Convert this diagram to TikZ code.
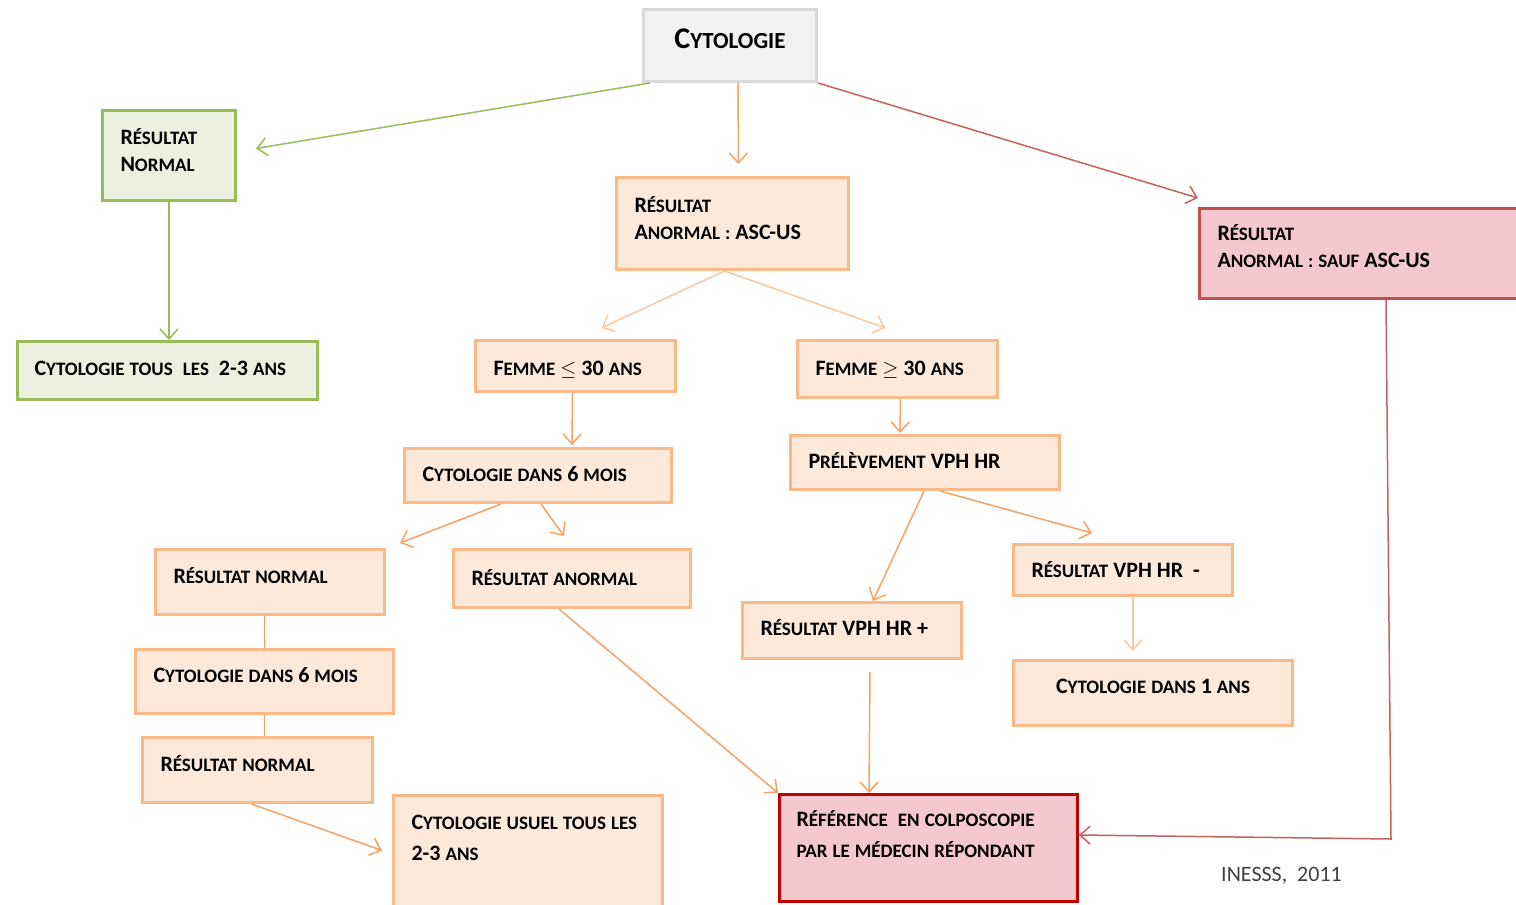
\documentclass[tikz,border=0pt]{standalone}
\usepackage{fontspec}
\setmainfont{Carlito}
\usetikzlibrary{arrows.meta}

\definecolor{peachfill}{HTML}{FDE9D9}
\definecolor{peachline}{HTML}{F9B988}
\definecolor{orangeline}{HTML}{F5A263}
\definecolor{orangelight}{HTML}{FAC8A0}
\definecolor{greenfill}{HTML}{EBF1DE}
\definecolor{greenline}{HTML}{9BBB59}
\definecolor{greyfill}{HTML}{F1F1F1}
\definecolor{greyline}{HTML}{D9D9D9}
\definecolor{pinkfill}{HTML}{F5C7CE}
\definecolor{redline}{HTML}{C0504D}
\definecolor{darkred}{HTML}{C00000}

\newcommand{\pc}[1]{{\fontsize{19}{27}\selectfont\spaceskip=5pt\relax #1}}

\begin{document}
\begin{tikzpicture}[x=1pt,y=-1pt,>={Straight Barb[length=10pt,width=18pt]},
  box/.style={draw=peachline,fill=peachfill,line width=3pt,anchor=north west,
    inner xsep=18pt,inner ysep=0pt,align=left,
    font=\fontsize{22}{27}\selectfont\bfseries,
    execute at begin node={\spaceskip=5pt\relax}},
  green box/.style={box,draw=greenline,fill=greenfill},
  pink box/.style={box,draw=redline,fill=pinkfill},
  sz/.style n args={3}{text width=#1pt,text height=#2pt,text depth=#3pt},
  link/.style={->,line width=1.5pt,draw=orangeline},
  light link/.style={link,draw=orangelight},
  green link/.style={link,draw=greenline},
  red link/.style={link,draw=redline!90}]

  \path[use as bounding box,fill=white] (0,0) rectangle (1516,905);
  \clip (0,0) rectangle (1516,905);

  \node[box,draw=greyline,fill=greyfill,sz={137}{39}{33},align=center,font=\bfseries] (cyto) at (642,8)
    {{\fontsize{30}{30}\selectfont C}{\fontsize{23}{30}\selectfont YTOLOGIE}};

  \node[green box,sz={97}{34}{56}] (rn) at (101,109) {R\pc{ÉSULTAT}\\N\pc{ORMAL}};
  \node[green box,sz={266}{34}{24},inner xsep=17pt] (cyt23) at (16,340)
    {C\pc{YTOLOGIE TOUS\ \ LES}\ \ 2-3\pc{ ANS}};

  \node[box,sz={196}{35}{57}] (asc) at (615,176) {R\pc{ÉSULTAT}\\A\pc{NORMAL :} ASC-US};
  \node[pink box,sz={294}{32}{58}] (sauf) at (1198,207) {R\pc{ÉSULTAT}\\A\pc{NORMAL : SAUF} ASC-US};

  \node[box,sz={164}{35}{16}] (f30lt) at (474,339) {F\pc{EMME} $\leq$ 30\pc{ ANS}};
  \node[box,sz={164}{35}{22}] (f30ge) at (796,339) {F\pc{EMME} $\geq$ 30\pc{ ANS}};

  \node[box,sz={231}{33}{21}] (cyt6a) at (403,447) {C\pc{YTOLOGIE DANS }6\pc{ MOIS}};
  \node[box,sz={233}{33}{21}] (vph) at (789,434) {P\pc{RÉLÈVEMENT} VPH HR};

  \node[box,sz={193}{34}{31}] (rnorm1) at (154,548) {R\pc{ÉSULTAT NORMAL}};
  \node[box,sz={201}{36}{22}] (ranorm) at (452,548) {R\pc{ÉSULTAT ANORMAL}};
  \node[box,sz={183}{33}{23}] (vphplus) at (741,601) {R\pc{ÉSULTAT} VPH HR +};
  \node[box,sz={183}{33}{18}] (vphmin) at (1012,543) {R\pc{ÉSULTAT} VPH HR\ \ -};

  \node[box,sz={222}{33}{31}] (cyt6b) at (134,648) {C\pc{YTOLOGIE DANS }6\pc{ MOIS}};
  \node[box,sz={243}{33}{32},align=center] (cyt1) at (1012,659) {C\pc{YTOLOGIE DANS }1\pc{ ANS}};
  \node[box,sz={194}{34}{31}] (rnorm2) at (141,736) {R\pc{ÉSULTAT NORMAL}};

  \node[box,sz={233}{34}{100}] (usuel) at (392,794) {C\pc{YTOLOGIE USUEL TOUS LES}\\[4pt]2-3\pc{ ANS}};
  \node[pink box,draw=darkred,sz={264}{32}{75},inner xsep=17pt] (ref) at (778,793)
    {R\pc{ÉFÉRENCE\ \ EN COLPOSCOPIE}\\[4pt]\pc{PAR LE MÉDECIN RÉPONDANT}};

  \node[anchor=base west,inner sep=0pt,text=black!75,font=\fontsize{22}{22}\selectfont] (src) at (1221,881)
    {INESSS,\ \ 2011};

  \draw[green link] ([xshift=8pt]cyto.south west) -- ([xshift=19pt,yshift=7pt]rn.east);
  \draw[link] ([xshift=8pt]cyto.south) -- ([xshift=6pt,yshift=12pt]asc.north);
  \draw[red link] (cyto.south east) -- ([yshift=9pt]sauf.north west);
  \draw[green link] (rn.south) -- (rn.south |- cyt23.north);

  \draw[light link] ([xshift=-8pt]asc.south) -- ([xshift=26pt,yshift=11pt]f30lt.north);
  \draw[light link] ([xshift=-8pt]asc.south) -- ([xshift=-12pt,yshift=11pt]f30ge.north);
  \draw[link] ([xshift=-3pt]f30lt.south) -- ([xshift=34pt,yshift=2pt]cyt6a.north);
  \draw[link] ([xshift=3pt]f30ge.south) -- ([xshift=-25pt,yshift=1pt]vph.north);

  \draw[link] ([xshift=-37pt]cyt6a.south) -- ([xshift=14pt,yshift=5pt]rnorm1.north east);
  \draw[link] ([xshift=3pt]cyt6a.south) -- ([xshift=-8pt,yshift=12pt]ranorm.north);
  \draw[link] ([xshift=-1pt]vph.south) -- ([xshift=21pt]vphplus.north);
  \draw[link] ([xshift=15pt]vph.south) -- ([xshift=-31pt,yshift=10pt]vphmin.north);

  \draw[link,-] (cyt6b.north |- rnorm1.south) -- (cyt6b.north);
  \draw[link,-] (cyt6b.south) -- (cyt6b.south |- rnorm2.north);
  \draw[link] ([xshift=-6pt]rnorm2.south) -- ([xshift=-10pt,yshift=12pt]usuel.west);

  \draw[link] ([xshift=-13pt]ranorm.south) -- (ref.north west);
  \draw[link] ([xshift=18pt,yshift=-12pt]vphplus.south) -- ([xshift=91pt]ref.north west);
  \draw[light link] ([xshift=10pt]vphmin.south) -- ([xshift=-20pt,yshift=8pt]cyt1.north);
  \draw[red link] ([xshift=188pt]sauf.south west) -- ++(5,539) -- ([yshift=13pt]ref.east);
\end{tikzpicture}
\end{document}
